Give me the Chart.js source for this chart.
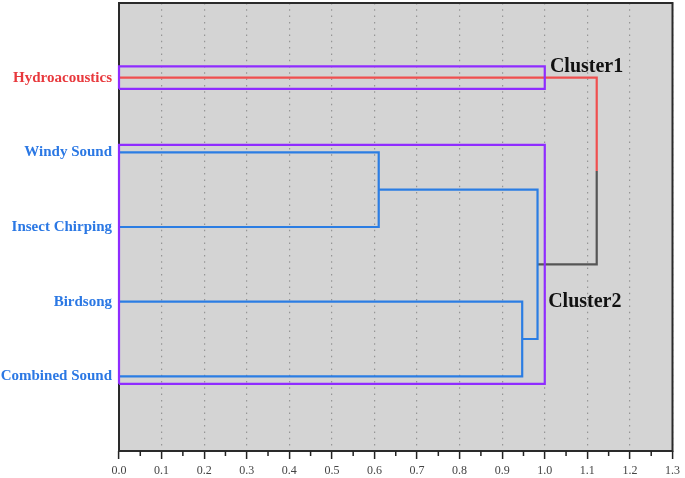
<!DOCTYPE html>
<html>
<head>
<meta charset="utf-8">
<script src="https://cdn.jsdelivr.net/npm/chart.js@4.4.1/dist/chart.umd.min.js"></script>
<style>
  html, body { margin: 0; padding: 0; background: #fff; }
  #wrap { position: relative; width: 685px; height: 478px; }
</style>
</head>
<body>
<div id="wrap"><canvas id="myChart"></canvas></div>
<script>
// leaves, listed bottom to top
var leafNames = ["Combined Sound", "Birdsong", "Insect Chirping", "Windy Sound", "Hydroacoustics"];
var leafPos = [1, 2, 3, 4, 5];
var leafColors = ["#2b78e4", "#2b78e4", "#2b78e4", "#2b78e4", "#e8393d"];

// merges: children (0-4 = leaves, 5.. = earlier merges) and joining distance
var mergeA = [3, 1, 5, 4];
var mergeB = [2, 0, 6, 7];
var mergeDist = [0.61, 0.947, 0.983, 1.122];
var mergeColorA = ["#2b7de3", "#2b7de3", "#2b7de3", "#f04f4f"];
var mergeColorB = ["#2b7de3", "#2b7de3", "#2b7de3", "#555555"];

// cluster boxes
var clusterNames = ["Cluster1", "Cluster2"];
var clusterTop = [5.15, 4.1];
var clusterBottom = [4.85, 0.9];
var clusterEnd = [1.0, 1.0];
var clusterLabelX = [1.012, 1.008];
var clusterLabelY = [5.14, 2.0];

var xMin = 0, xMax = 1.3, xStep = 0.1;

var datasets = [];
var nodeX = leafPos.map(function () { return 0; });
var nodeY = leafPos.slice();

function lineSet(points, color) {
  return {
    data: points,
    showLine: true,
    borderColor: color,
    borderWidth: 2.2,
    pointRadius: 0,
    fill: false,
    tension: 0,
    clip: false,
    borderJoinStyle: "miter"
  };
}

// cluster boxes first so they sit on top
for (var c = 0; c < clusterNames.length; c++) {
  datasets.push(lineSet([
    { x: 0, y: clusterBottom[c] },
    { x: clusterEnd[c], y: clusterBottom[c] },
    { x: clusterEnd[c], y: clusterTop[c] },
    { x: 0, y: clusterTop[c] },
    { x: 0, y: clusterBottom[c] }
  ], "#8f2cff"));
}

for (var i = 0; i < mergeDist.length; i++) {
  var a = mergeA[i], b = mergeB[i], h = mergeDist[i];
  var mid = (nodeY[a] + nodeY[b]) / 2;
  if (mergeColorA[i] === mergeColorB[i]) {
    datasets.push(lineSet([
      { x: nodeX[a], y: nodeY[a] },
      { x: h, y: nodeY[a] },
      { x: h, y: nodeY[b] },
      { x: nodeX[b], y: nodeY[b] }
    ], mergeColorA[i]));
  } else {
    datasets.push(lineSet([
      { x: nodeX[a], y: nodeY[a] },
      { x: h, y: nodeY[a] },
      { x: h, y: mid }
    ], mergeColorA[i]));
    datasets.push(lineSet([
      { x: h, y: mid },
      { x: h, y: nodeY[b] },
      { x: nodeX[b], y: nodeY[b] }
    ], mergeColorB[i]));
  }
  nodeX.push(h);
  nodeY.push(mid);
}

var framePlugin = {
  id: "frame",
  beforeDraw: function (chart) {
    var ca = chart.chartArea, ctx = chart.ctx;
    ctx.save();
    ctx.fillStyle = "#d4d4d4";
    ctx.fillRect(ca.left, ca.top, ca.right - ca.left, ca.bottom - ca.top);
    ctx.restore();
  },
  beforeDatasetsDraw: function (chart) {
    var ca = chart.chartArea, ctx = chart.ctx, xs = chart.scales.x;
    ctx.save();
    ctx.strokeStyle = "#2a2a2a";
    ctx.lineWidth = 2;
    ctx.strokeRect(ca.left, ca.top, ca.right - ca.left, ca.bottom - ca.top);
    // minor ticks halfway between the major ones
    ctx.lineWidth = 1.5;
    ctx.strokeStyle = "#222";
    ctx.beginPath();
    for (var k = 0; k < xs.ticks.length - 1; k++) {
      var px = xs.getPixelForValue((xs.ticks[k].value + xs.ticks[k + 1].value) / 2);
      ctx.moveTo(px, ca.bottom);
      ctx.lineTo(px, ca.bottom + 5);
    }
    ctx.stroke();
    ctx.restore();
  },
  afterDatasetsDraw: function (chart) {
    var ctx = chart.ctx, xs = chart.scales.x, ys = chart.scales.y;
    ctx.save();
    ctx.fillStyle = "#111";
    ctx.font = "bold 20px 'Liberation Serif'";
    ctx.textAlign = "left";
    ctx.textBaseline = "middle";
    for (var c = 0; c < clusterNames.length; c++) {
      ctx.fillText(clusterNames[c], xs.getPixelForValue(clusterLabelX[c]), ys.getPixelForValue(clusterLabelY[c]));
    }
    ctx.restore();
  }
};

new Chart(document.getElementById("myChart"), {
  type: "scatter",
  data: { datasets: datasets },
  plugins: [framePlugin],
  options: {
    responsive: true,
    maintainAspectRatio: false,
    animation: false,
    layout: { padding: { top: 3, right: 12, bottom: 0, left: 0 } },
    plugins: { legend: { display: false }, tooltip: { enabled: false } },
    scales: {
      x: {
        type: "linear",
        min: xMin,
        max: xMax,
        afterFit: function (s) { s.height = 27; },
        ticks: {
          stepSize: xStep,
          autoSkip: false,
          maxRotation: 0,
          padding: 5,
          color: "#444",
          font: { family: "'Liberation Serif'", size: 12 },
          callback: function (v) { return Number(v).toFixed(1); }
        },
        grid: {
          color: "#959595",
          lineWidth: 1.2,
          tickLength: 8,
          tickColor: "#222",
          tickWidth: 1.5,
          tickBorderDash: []
        },
        border: { display: false, dash: [1.5, 4.8] }
      },
      y: {
        type: "linear",
        min: 0,
        max: 6,
        afterFit: function (s) { s.width = 119; s.paddingTop = 0; s.paddingBottom = 0; },
        afterBuildTicks: function (s) {
          s.ticks = leafPos.map(function (v) { return { value: v }; });
        },
        ticks: {
          padding: 7,
          font: { family: "'Liberation Serif'", size: 15, weight: "bold" },
          color: function (ctx) { return leafColors[leafPos.indexOf(ctx.tick.value)]; },
          callback: function (v) { return leafNames[leafPos.indexOf(v)]; }
        },
        grid: { display: false, tickLength: 0 },
        border: { display: false }
      }
    }
  }
});
</script>
</body>
</html>
